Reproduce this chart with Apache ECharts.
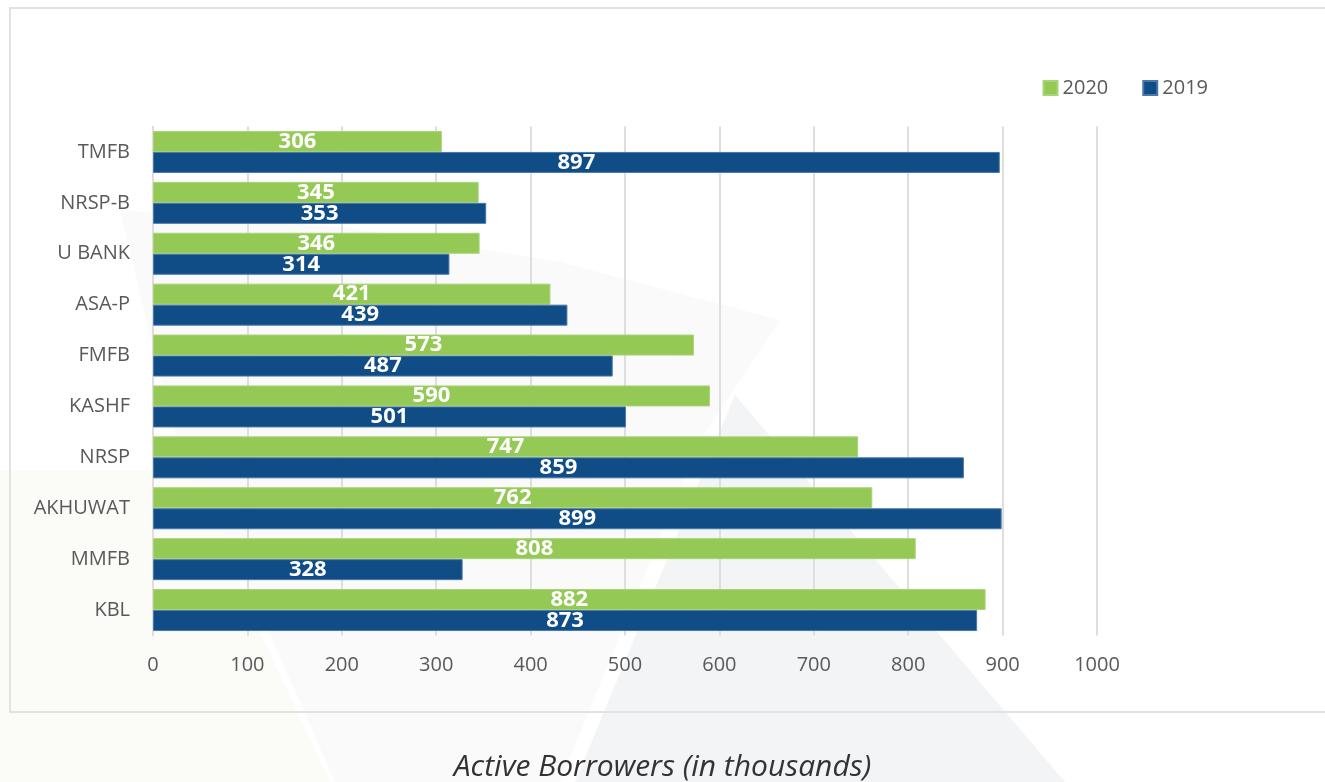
<!DOCTYPE html>
<html>
<head>
<meta charset="utf-8">
<script src="https://cdn.jsdelivr.net/npm/echarts@6/dist/echarts.min.js"></script>
<style>
html,body{margin:0;padding:0;background:#ffffff;}
#chart{width:1325px;height:782px;}
</style>
</head>
<body>
<div id="chart"></div>
<script>
const categories = ['TMFB','NRSP-B','U BANK','ASA-P','FMFB','KASHF','NRSP','AKHUWAT','MMFB','KBL'];
const values2020 = [306,345,346,421,573,590,747,762,808,882];
const values2019 = [897,353,314,439,487,501,859,899,328,873];
const xTicks = [0,100,200,300,400,500,600,700,800,900,1000];

const chart = echarts.init(document.getElementById('chart'), null, {renderer:'canvas'});
const labelStyle = {
  show:true, position:'inside', color:'#ffffff', fontFamily:'Open Sans', fontWeight:'bold', fontSize:22,
  formatter: p => p.value
};
chart.setOption({
  animation:false,
  backgroundColor:'#ffffff',
  graphic:[
    {type:'polygon', z:-10, silent:true, shape:{points:[[0,470],[0,782],[330,782],[245,600],[205,470]]}, style:{fill:'#fbfbf8'}},
    {type:'polygon', z:-9, silent:true, shape:{points:[[120,210],[350,228],[560,262],[780,320],[700,440],[560,782],[335,782],[255,600],[170,420]]}, style:{fill:'#fafafa'}},
    {type:'polygon', z:-8, silent:true, shape:{points:[[735,395],[1065,782],[575,782]]}, style:{fill:'#f3f4f5'}},
    {type:'rect', z:-5, silent:true, shape:{x:10,y:8,width:1330,height:704}, style:{fill:'none', stroke:'#e2e2e2', lineWidth:2}}
  ],
  legend:{
    data:['2020','2019'], right:112, top:73, itemWidth:14, itemHeight:14, itemGap:34, icon:'rect',
    textStyle:{color:'#595959', fontFamily:'Open Sans', fontSize:20}
  },
  grid:{left:153, right:228, top:126.5, bottom:146.5, containLabel:false},
  xAxis:{
    type:'value', min:0, max:1000, interval:100,
    axisLine:{show:false}, axisTick:{show:false},
    splitLine:{show:true, lineStyle:{color:'#dedede', width:2}},
    axisLabel:{color:'#595959', fontFamily:'Open Sans', fontSize:20, margin:20, formatter: v => String(v)}
  },
  yAxis:{
    type:'category', data:categories, inverse:true,
    axisLine:{show:true, lineStyle:{color:'#dedede', width:2}}, axisTick:{show:false},
    axisLabel:{color:'#595959', fontFamily:'Open Sans', fontSize:20, margin:23}
  },
  series:[
    {name:'2020', type:'bar', data:values2020, barWidth:21, barGap:'0%', itemStyle:{color:'#95c955', borderColor:'#a9d479', borderWidth:1}, label:labelStyle},
    {name:'2019', type:'bar', data:values2019, barWidth:21, barGap:'0%', itemStyle:{color:'#104c86', borderColor:'#4a78a8', borderWidth:1}, label:labelStyle}
  ],
  title:{
    text:'Active Borrowers (in thousands)', left:'center', top:747,
    textStyle:{color:'#333333', fontFamily:'Open Sans', fontStyle:'italic', fontWeight:'normal', fontSize:30}
  }
});
</script>
</body>
</html>
